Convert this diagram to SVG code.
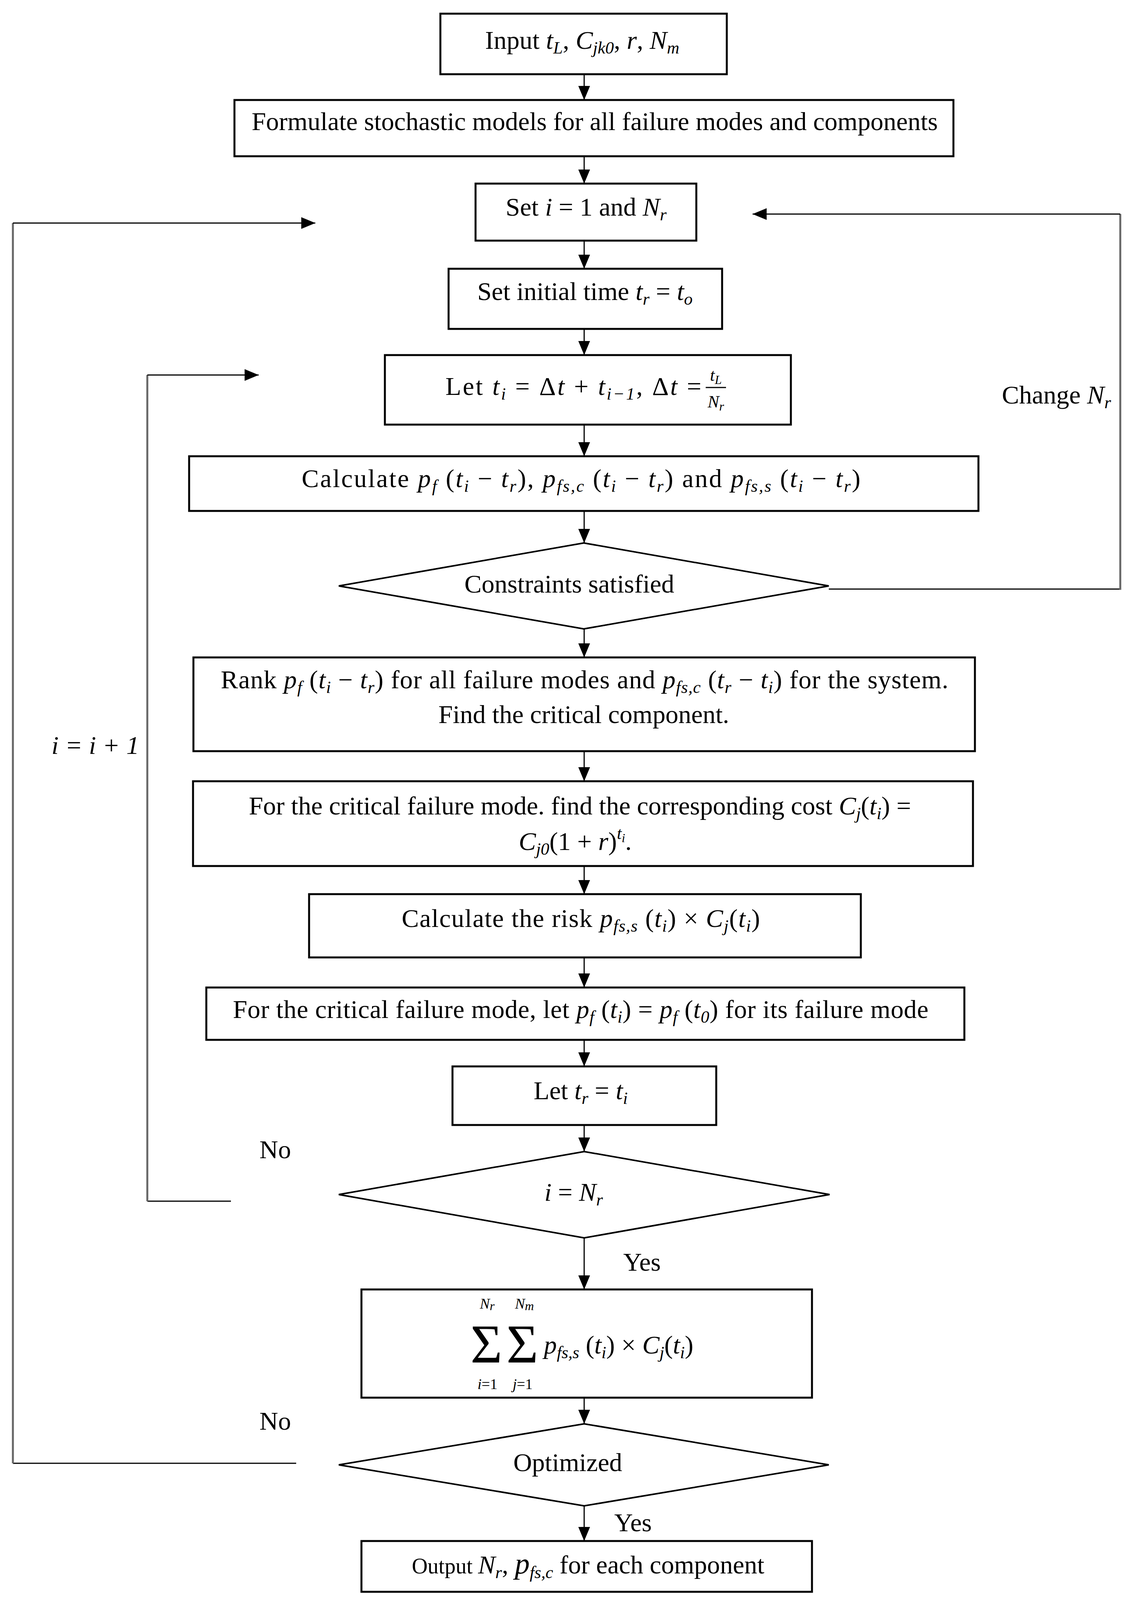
<svg xmlns="http://www.w3.org/2000/svg" width="2897" height="4217" viewBox="0 0 2897 4217">
<style>
.t{font-family:"Liberation Serif","Times New Roman",serif;font-size:66px;fill:#000}
.m{font-style:italic}
.s{font-size:44px}
.ss{font-size:32px}
.lim{font-size:38px}
.big{font-size:140px;font-style:normal}
.box{fill:#fff;stroke:#000;stroke-width:5}
.dia{fill:#fff;stroke:#000;stroke-width:4}
.ln{fill:none;stroke:#000;stroke-width:3}
.gv{fill:none;stroke:#666;stroke-width:5}
</style>
<defs>
<marker id="ah" markerUnits="userSpaceOnUse" markerWidth="36" markerHeight="30" refX="36" refY="15" orient="auto">
<path d="M0,0 L36,15 L0,30 z" fill="#000"/>
</marker>
</defs>
<rect width="2897" height="4217" fill="#fff"/>

<g id="connectors">
<path class="ln" marker-end="url(#ah)" d="M1495,190 V256"/>
<path class="ln" marker-end="url(#ah)" d="M1495,400 V470"/>
<path class="ln" marker-end="url(#ah)" d="M1495,616 V688"/>
<path class="ln" marker-end="url(#ah)" d="M1495,842 V909"/>
<path class="ln" marker-end="url(#ah)" d="M1495,1087 V1168"/>
<path class="ln" marker-end="url(#ah)" d="M1495,1308 V1390"/>
<path class="ln" marker-end="url(#ah)" d="M1495,1610 V1683"/>
<path class="ln" marker-end="url(#ah)" d="M1495,1923 V2000"/>
<path class="ln" marker-end="url(#ah)" d="M1495,2217 V2289"/>
<path class="ln" marker-end="url(#ah)" d="M1495,2451 V2528"/>
<path class="ln" marker-end="url(#ah)" d="M1495,2662 V2730"/>
<path class="ln" marker-end="url(#ah)" d="M1495,2880 V2948"/>
<path class="ln" marker-end="url(#ah)" d="M1495,3169 V3301"/>
<path class="ln" marker-end="url(#ah)" d="M1495,3578 V3645"/>
<path class="ln" marker-end="url(#ah)" d="M1495,3855 V3945"/>
<!-- change Nr loop -->
<path class="ln" d="M2121,1508 H2867"/>
<path class="gv" d="M2867,1510 V548"/>
<path class="ln" marker-end="url(#ah)" d="M2867,548 H1926"/>
<!-- i=i+1 loop -->
<path class="ln" d="M591,3075 H377"/>
<path class="gv" d="M377,3075 V960"/>
<path class="ln" marker-end="url(#ah)" d="M377,960 H662"/>
<!-- not optimized loop -->
<path class="ln" d="M758,3746 H33"/>
<path class="gv" d="M33,3746 V571"/>
<path class="ln" marker-end="url(#ah)" d="M33,571 H807"/>
</g>

<g id="labels">
<text class="t" x="2564" y="1033">Change <tspan class="m">N</tspan><tspan class="s m" dy="12">r</tspan></text>
<text class="t m" x="244" y="1930" text-anchor="middle">i = i + 1</text>
<text class="t" x="664" y="2965">No</text>
<text class="t" x="664" y="3660">No</text>
<text class="t" x="1595" y="3253">Yes</text>
<text class="t" x="1572" y="3920">Yes</text>
</g>

<g id="n1">
<rect class="box" x="1127" y="35" width="733" height="155"/>
<text class="t" x="1490" y="125" text-anchor="middle">Input <tspan class="m">t</tspan><tspan class="s m" dy="12">L</tspan><tspan dy="-12">, </tspan><tspan class="m">C</tspan><tspan class="s m" dy="12">jk0</tspan><tspan dy="-12">, </tspan><tspan class="m">r</tspan>, <tspan class="m">N</tspan><tspan class="s m" dy="12">m</tspan></text>
</g>

<g id="n2">
<rect class="box" x="600" y="256" width="1840" height="144"/>
<text class="t" x="1522" y="333" text-anchor="middle">Formulate stochastic models for all failure modes and components</text>
</g>

<g id="n3">
<rect class="box" x="1217" y="470" width="565" height="146"/>
<text class="t" x="1500" y="552" text-anchor="middle">Set <tspan class="m">i</tspan> = 1 and <tspan class="m">N</tspan><tspan class="s m" dy="12">r</tspan></text>
</g>

<g id="n4">
<rect class="box" x="1148" y="688" width="700" height="154"/>
<text class="t" x="1497" y="768" text-anchor="middle">Set initial time <tspan class="m">t</tspan><tspan class="s m" dy="12">r</tspan><tspan dy="-12"> = </tspan><tspan class="m">t</tspan><tspan class="s m" dy="12">o</tspan></text>
</g>

<g id="n5">
<rect class="box" x="985" y="909" width="1039" height="178"/>
<text class="t" x="1140" y="1011" textLength="655" lengthAdjust="spacing">Let <tspan class="m">t</tspan><tspan class="s m" dy="12">i</tspan><tspan dy="-12"> = Δ</tspan><tspan class="m">t</tspan> + <tspan class="m">t</tspan><tspan class="s m" dy="12">i−1</tspan><tspan dy="-12">, Δ</tspan><tspan class="m">t</tspan> =</text>
<text class="t s m" x="1832" y="975" text-anchor="middle">t<tspan class="ss" dy="8">L</tspan></text>
<line class="ln" x1="1806" y1="992" x2="1858" y2="992"/>
<text class="t s m" x="1832" y="1043" text-anchor="middle">N<tspan class="ss" dy="8">r</tspan></text>
</g>

<g id="n6">
<rect class="box" x="484" y="1168" width="2020" height="140"/>
<text class="t" x="772" y="1247" textLength="1430" lengthAdjust="spacing">Calculate <tspan class="m">p</tspan><tspan class="s m" dy="12">f</tspan><tspan dy="-12"> (</tspan><tspan class="m">t</tspan><tspan class="s m" dy="12">i</tspan><tspan dy="-12"> − </tspan><tspan class="m">t</tspan><tspan class="s m" dy="12">r</tspan><tspan dy="-12">), </tspan><tspan class="m">p</tspan><tspan class="s m" dy="12">fs,c</tspan><tspan dy="-12"> (</tspan><tspan class="m">t</tspan><tspan class="s m" dy="12">i</tspan><tspan dy="-12"> − </tspan><tspan class="m">t</tspan><tspan class="s m" dy="12">r</tspan><tspan dy="-12">) and </tspan><tspan class="m">p</tspan><tspan class="s m" dy="12">fs,s</tspan><tspan dy="-12"> (</tspan><tspan class="m">t</tspan><tspan class="s m" dy="12">i</tspan><tspan dy="-12"> − </tspan><tspan class="m">t</tspan><tspan class="s m" dy="12">r</tspan><tspan dy="-12">)</tspan></text>
</g>

<g id="n7">
<polygon class="dia" points="867,1500 1494,1390 2121,1500 1494,1610"/>
<text class="t" x="1457" y="1517" text-anchor="middle">Constraints satisfied</text>
</g>

<g id="n8">
<rect class="box" x="495" y="1683" width="2000" height="240"/>
<text class="t" x="565" y="1762" textLength="1862" lengthAdjust="spacing">Rank <tspan class="m">p</tspan><tspan class="s m" dy="12">f</tspan><tspan dy="-12"> (</tspan><tspan class="m">t</tspan><tspan class="s m" dy="12">i</tspan><tspan dy="-12"> − </tspan><tspan class="m">t</tspan><tspan class="s m" dy="12">r</tspan><tspan dy="-12">) for all failure modes and </tspan><tspan class="m">p</tspan><tspan class="s m" dy="12">fs,c</tspan><tspan dy="-12"> (</tspan><tspan class="m">t</tspan><tspan class="s m" dy="12">r</tspan><tspan dy="-12"> − </tspan><tspan class="m">t</tspan><tspan class="s m" dy="12">i</tspan><tspan dy="-12">) for the system.</tspan></text>
<text class="t" x="1494" y="1851" text-anchor="middle">Find the critical component.</text>
</g>

<g id="n9">
<rect class="box" x="494" y="2000" width="1996" height="217"/>
<text class="t" x="1484" y="2085" text-anchor="middle">For the critical failure mode. find the corresponding cost <tspan class="m">C</tspan><tspan class="s m" dy="12">j</tspan><tspan dy="-12">(</tspan><tspan class="m">t</tspan><tspan class="s m" dy="12">i</tspan><tspan dy="-12">) =</tspan></text>
<text class="t" x="1472" y="2176" text-anchor="middle"><tspan class="m">C</tspan><tspan class="s m" dy="12">j0</tspan><tspan dy="-12">(1 + </tspan><tspan class="m">r</tspan>)<tspan class="s m" dy="-28">t</tspan><tspan class="ss m" dy="8">i</tspan><tspan dy="20">.</tspan></text>
</g>

<g id="n10">
<rect class="box" x="791" y="2289" width="1412" height="162"/>
<text class="t" x="1028" y="2373" textLength="917" lengthAdjust="spacing">Calculate the risk <tspan class="m">p</tspan><tspan class="s m" dy="12">fs,s</tspan><tspan dy="-12"> (</tspan><tspan class="m">t</tspan><tspan class="s m" dy="12">i</tspan><tspan dy="-12">) × </tspan><tspan class="m">C</tspan><tspan class="s m" dy="12">j</tspan><tspan dy="-12">(</tspan><tspan class="m">t</tspan><tspan class="s m" dy="12">i</tspan><tspan dy="-12">)</tspan></text>
</g>

<g id="n11">
<rect class="box" x="528" y="2528" width="1940" height="134"/>
<text class="t" x="596" y="2606" textLength="1780" lengthAdjust="spacing">For the critical failure mode, let <tspan class="m">p</tspan><tspan class="s m" dy="12">f</tspan><tspan dy="-12"> (</tspan><tspan class="m">t</tspan><tspan class="s m" dy="12">i</tspan><tspan dy="-12">) = </tspan><tspan class="m">p</tspan><tspan class="s m" dy="12">f</tspan><tspan dy="-12"> (</tspan><tspan class="m">t</tspan><tspan class="s m" dy="12">0</tspan><tspan dy="-12">) for its failure mode</tspan></text>
</g>

<g id="n12">
<rect class="box" x="1158" y="2730" width="675" height="150"/>
<text class="t" x="1486" y="2814" text-anchor="middle">Let  <tspan class="m">t</tspan><tspan class="s m" dy="12">r</tspan><tspan dy="-12"> = </tspan><tspan class="m">t</tspan><tspan class="s m" dy="12">i</tspan></text>
</g>

<g id="n13">
<polygon class="dia" points="867,3058 1495,2948 2123,3058 1495,3169"/>
<text class="t" x="1468" y="3074" text-anchor="middle"><tspan class="m">i</tspan> = <tspan class="m">N</tspan><tspan class="s m" dy="12">r</tspan></text>
</g>

<g id="n14">
<rect class="box" x="925" y="3301" width="1153" height="277"/>
<text class="t"><tspan class="big" x="1204" y="3488">Σ</tspan><tspan class="big" x="1296" y="3488">Σ</tspan><tspan class="lim m" x="1228" y="3350">N</tspan><tspan class="ss m" dy="4">r</tspan><tspan class="lim m" x="1318" y="3350">N</tspan><tspan class="ss m" dy="4">m</tspan><tspan class="lim m" x="1222" y="3556">i</tspan><tspan class="lim">=1</tspan><tspan class="lim m" x="1312" y="3556">j</tspan><tspan class="lim">=1</tspan><tspan class="m" x="1392" y="3465">p</tspan><tspan class="s m" dy="12">fs,s</tspan><tspan dy="-12"> (</tspan><tspan class="m">t</tspan><tspan class="s m" dy="12">i</tspan><tspan dy="-12">) × </tspan><tspan class="m">C</tspan><tspan class="s m" dy="12">j</tspan><tspan dy="-12">(</tspan><tspan class="m">t</tspan><tspan class="s m" dy="12">i</tspan><tspan dy="-12">)</tspan></text>
</g>

<g id="n15">
<polygon class="dia" points="867,3750 1495,3645 2121,3750 1495,3855"/>
<text class="t" x="1453" y="3766" text-anchor="middle">Optimized</text>
</g>

<g id="n16">
<rect class="box" x="925" y="3945" width="1153" height="130"/>
<text class="t" x="1505" y="4028" text-anchor="middle"><tspan style="font-size:56px">Output </tspan><tspan class="m">N</tspan><tspan class="s m" dy="12">r</tspan><tspan dy="-12">, </tspan><tspan class="m" style="font-size:76px">p</tspan><tspan class="s m" dy="12">fs,c</tspan><tspan dy="-12">  for each component</tspan></text>
</g>
</svg>
